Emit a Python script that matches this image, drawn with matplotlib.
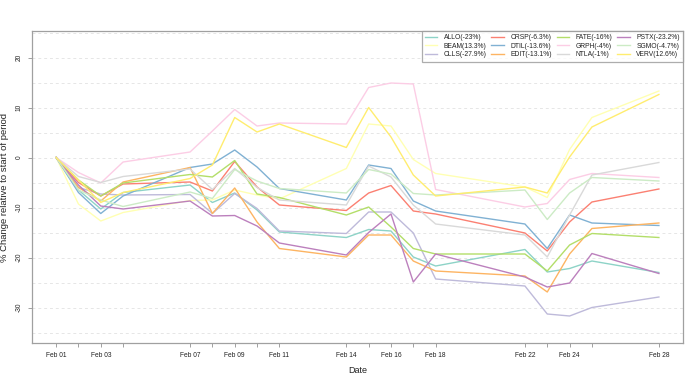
import matplotlib
matplotlib.use("Agg")
import matplotlib.pyplot as plt
import numpy as np
import datetime as dt

plt.rcParams['font.family'] = ['Liberation Sans', 'DejaVu Sans']

dates = ["2022-02-01", "2022-02-02", "2022-02-03", "2022-02-04", "2022-02-07",
         "2022-02-08", "2022-02-09", "2022-02-10", "2022-02-11", "2022-02-14",
         "2022-02-15", "2022-02-16", "2022-02-17", "2022-02-18", "2022-02-22",
         "2022-02-23", "2022-02-24", "2022-02-25", "2022-02-28"]

tick_labels = ["Feb 01", "", "Feb 03", "", "Feb 07", "", "Feb 09", "", "Feb 11",
               "Feb 14", "", "Feb 16", "", "Feb 18", "Feb 22", "", "Feb 24", "", "Feb 28"]

ALLO = [0, -6.5, -10.3, -7.0, -5.5, -9.0, -7.1, -10.5, -14.9, -16.0, -14.4, -14.7, -19.9, -21.7, -18.4, -22.9, -22.2, -20.7, -23.0]
BEAM = [0, -9.3, -12.7, -11.0, -8.6, -8.5, -6.5, -7.5, -8.3, -2.2, 6.7, 6.3, -0.4, -3.2, -5.9, -8.0, 1.6, 8.0, 13.3]
CLLS = [0, -6.0, -7.3, -7.5, -7.4, -11.2, -7.2, -10.2, -14.7, -15.2, -10.9, -10.9, -15.1, -24.3, -25.7, -31.3, -31.7, -30.0, -27.9]
CRSP = [0, -5.0, -7.7, -5.3, -4.9, -6.7, -0.8, -5.9, -9.5, -10.6, -7.1, -5.6, -10.7, -11.3, -15.1, -18.7, -12.9, -8.9, -6.3]
DTIL = [0, -7.0, -11.2, -7.7, -2.0, -1.3, 1.5, -1.9, -6.2, -8.5, -1.5, -2.2, -8.7, -10.7, -13.3, -18.2, -11.5, -13.1, -13.6]
EDIT = [0, -6.0, -8.7, -4.9, -2.0, -11.2, -6.1, -12.9, -18.2, -19.9, -15.5, -15.5, -20.7, -22.7, -23.7, -26.9, -19.3, -14.2, -13.1]
FATE = [0, -4.5, -7.7, -5.1, -3.4, -3.9, -0.6, -7.3, -8.0, -11.5, -9.9, -13.9, -18.2, -19.3, -19.3, -22.7, -17.5, -15.2, -16.0]
GRPH = [0, -3.0, -5.1, -0.9, 1.1, 5.3, 9.6, 6.3, 6.9, 6.7, 14.0, 14.9, 14.7, -6.4, -9.9, -9.2, -4.4, -3.2, -4.0]
NTLA = [0, -3.8, -5.0, -3.8, -2.3, -6.4, -2.2, -6.0, -8.5, -9.5, -1.7, -3.9, -9.5, -13.3, -15.5, -19.9, -11.5, -3.5, -1.0]
PSTX = [0, -5.5, -9.7, -10.3, -8.7, -11.7, -11.6, -13.7, -17.1, -19.5, -15.0, -11.3, -24.9, -19.3, -23.9, -25.9, -25.1, -19.2, -23.2]
SGMO = [0, -6.5, -8.5, -9.8, -6.9, -8.2, -2.4, -4.7, -6.2, -7.1, -2.4, -3.3, -7.2, -7.5, -6.5, -12.4, -7.1, -4.0, -4.7]
VERV = [0, -4.5, -9.0, -7.0, -4.2, -1.5, 8.0, 5.1, 6.7, 2.0, 10.0, 4.1, -3.5, -7.7, -5.9, -7.1, 0.1, 6.1, 12.6]

series = [
    ("ALLO(-23%)", ALLO, "#8DD3C7"),
    ("BEAM(13.3%)", BEAM, "#FFFFB3"),
    ("CLLS(-27.9%)", CLLS, "#BEBADA"),
    ("CRSP(-6.3%)", CRSP, "#FB8072"),
    ("DTIL(-13.6%)", DTIL, "#80B1D3"),
    ("EDIT(-13.1%)", EDIT, "#FDB462"),
    ("FATE(-16%)", FATE, "#B3DE69"),
    ("GRPH(-4%)", GRPH, "#FCCDE5"),
    ("NTLA(-1%)", NTLA, "#D9D9D9"),
    ("PSTX(-23.2%)", PSTX, "#BC80BD"),
    ("SGMO(-4.7%)", SGMO, "#CCEBC5"),
    ("VERV(12.6%)", VERV, "#FFED6F"),
]

x = [dt.datetime.strptime(d, "%Y-%m-%d") for d in dates]

fig = plt.figure(figsize=(7.0, 3.82), dpi=100)
ax = fig.add_axes([32/700, 1 - 343/382, (683 - 32)/700, (343 - 31)/382])

for yv in np.arange(-35, 30, 5):
    ax.axhline(yv, color="#e6e6e6", lw=0.7, ls=(0, (3, 3)), zorder=0)

for lab, vals, col in series:
    ax.plot(x, vals, color=col, lw=1.0, label=lab, zorder=2)

span = (x[-1] - x[0]).days
pad = dt.timedelta(days=span * 0.04)
ax.set_xlim(x[0] - pad, x[-1] + pad)
ax.set_ylim(-37.1, 25.3)

ax.set_xticks(x)
ax.set_xticklabels(tick_labels)
ax.set_yticks([-30, -20, -10, 0, 10, 20])
ax.set_yticklabels(["-30", "-20", "-10", "0", "10", "20"], rotation=90, va="center")

for sp in ax.spines.values():
    sp.set_color("#a0a0a0")
    sp.set_linewidth(0.9)
ax.tick_params(axis="both", colors="#a0a0a0", labelcolor="#222222", length=3, width=0.7,
               labelsize=4.8)
ax.tick_params(axis="x", pad=3.5)
ax.tick_params(axis="y", pad=3.5)

ax.set_xlabel("Date", fontsize=6.5, color="#222222", labelpad=5)
ax.set_ylabel("% Change relative to start of period", fontsize=6.8, color="#222222", labelpad=5)

leg = ax.legend(loc="upper right", ncol=4, fontsize=4.9, frameon=True, fancybox=False,
                borderaxespad=0, handlelength=1.8, handletextpad=1.0, columnspacing=0.7,
                labelspacing=0.25, borderpad=0.45)
leg.get_frame().set_edgecolor("#999999")
leg.get_frame().set_linewidth(0.9)
for t in leg.get_texts():
    t.set_color("#222222")

fig.savefig("out.png", dpi=100)
